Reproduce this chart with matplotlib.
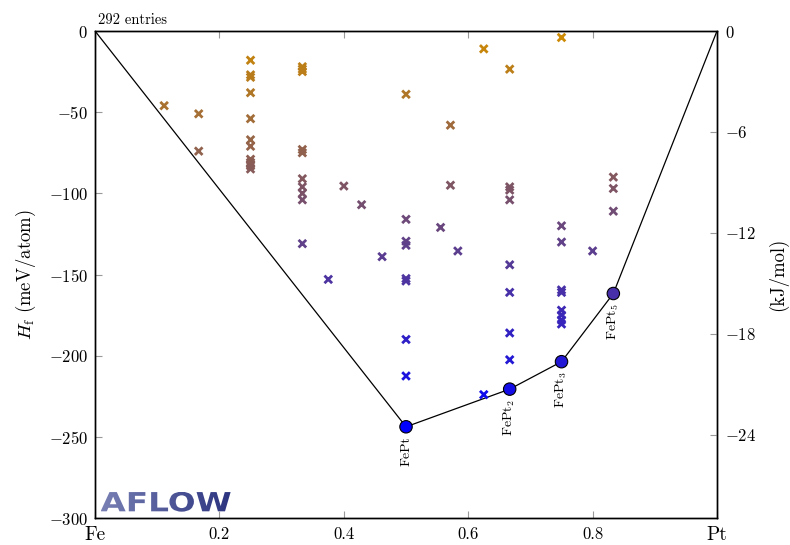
import matplotlib
matplotlib.use("Agg")
import matplotlib.pyplot as plt
import numpy as np
from matplotlib.colors import LinearSegmentedColormap, Normalize
from matplotlib.textpath import TextPath
from matplotlib.patches import PathPatch
from matplotlib.font_manager import FontProperties
from matplotlib.transforms import Affine2D

plt.rcParams["mathtext.fontset"] = "cm"
plt.rcParams["font.family"] = "serif"
plt.rcParams["font.serif"] = ["cmr10", "DejaVu Serif"]

# all entries (fraction of Pt, formation enthalpy meV/atom)
entry_x = [1/9,
           1/6, 1/6,
           0.25, 0.25, 0.25, 0.25, 0.25, 0.25, 0.25, 0.25, 0.25, 0.25, 0.25, 0.25,
           1/3, 1/3, 1/3, 1/3, 1/3, 1/3, 1/3, 1/3, 1/3, 1/3,
           0.375, 0.4, 3/7, 6/13,
           0.5, 0.5, 0.5, 0.5, 0.5, 0.5, 0.5, 0.5,
           5/9, 4/7, 4/7, 7/12,
           0.625, 0.625,
           2/3, 2/3, 2/3, 2/3, 2/3, 2/3, 2/3, 2/3,
           0.75, 0.75, 0.75, 0.75, 0.75, 0.75, 0.75, 0.75, 0.75,
           0.8,
           5/6, 5/6, 5/6]
entry_h = [-46,
           -51, -74,
           -18, -27, -28.5, -38, -54, -67, -71, -79, -81, -82, -83, -85,
           -22, -23.5, -25, -73, -75, -91, -96, -100, -104, -131,
           -153, -95.5, -107, -139,
           -39, -116, -129.5, -132, -152.5, -154, -190, -212.5,
           -121, -58, -95, -135.5,
           -11, -224,
           -23.5, -96, -98, -104, -144, -161, -186, -202.5,
           -4, -120, -130, -159.5, -161, -172, -175, -178, -180.5,
           -135.5,
           -90, -97, -111]

# convex hull vertices
hull_x = [0.0, 0.5, 2/3, 0.75, 5/6, 1.0]
hull_h = [0.0, -243.8, -220.6, -203.7, -161.7, 0.0]
hull_labels = ["FePt", r"FePt$_2$", r"FePt$_3$", r"FePt$_5$"]

yticks = [0, -50, -100, -150, -200, -250, -300]
kj_ticks = [0, -6, -12, -18, -24]
mev_to_kj = 0.0964853

cmap = LinearSegmentedColormap.from_list("hull", ["#0000FF", "#D08C00"])
norm = Normalize(vmin=-244, vmax=0)

fig = plt.figure(figsize=(7.9, 5.45), dpi=100)
ax = fig.add_axes([0.1203, 0.0495, 0.7873, 0.8936])

ax.plot(hull_x, hull_h, color="black", lw=0.9, zorder=2)
ax.scatter(entry_x, entry_h, marker="x", s=30, linewidths=2.0,
           c=cmap(norm(np.array(entry_h))), zorder=3)
ax.scatter(hull_x[1:-1], hull_h[1:-1], marker="o", s=80,
           c=cmap(norm(np.array(hull_h[1:-1]))), edgecolors="black",
           linewidths=0.8, zorder=4)
for hx, hh, lab in zip(hull_x[1:-1], hull_h[1:-1], hull_labels):
    ax.annotate(lab, (hx, hh), xytext=(0, -7), textcoords="offset points",
                rotation=90, ha="center", va="top", fontsize=10)

ax.set_xlim(0, 1)
ax.set_ylim(-300, 0)
ax.set_xticks([0, 0.2, 0.4, 0.6, 0.8, 1])
ax.set_xticklabels(["Fe", "0.2", "0.4", "0.6", "0.8", "Pt"])
for i, t in enumerate(ax.get_xticklabels()):
    t.set_fontsize(14 if i in (0, 5) else 12)
ax.set_yticks(yticks)
ax.set_yticklabels(["$%d$" % v for v in yticks], fontsize=12)
ax.tick_params(axis="both", direction="in", length=5, width=0.8,
               color="#999999", top=True, pad=5)
ax.tick_params(axis="x", pad=6)
ax.set_ylabel(r"$H_{\rm f}$ (meV/atom)", fontsize=13.5, labelpad=8)

ax2 = ax.twinx()
ax2.set_ylim(-300 * mev_to_kj, 0)
ax2.set_yticks(kj_ticks)
ax2.set_yticklabels(["$%d$" % v for v in kj_ticks], fontsize=12)
ax2.tick_params(axis="y", direction="in", length=5, width=0.8,
                color="#999999", pad=6)
ax2.set_ylabel("(kJ/mol)", fontsize=13.5, labelpad=8)

for a in (ax, ax2):
    for sp in a.spines.values():
        sp.set_linewidth(1.0)
        sp.set_color("black")

ax.text(0.004, 1.008, "292 entries", transform=ax.transAxes,
        ha="left", va="bottom", fontsize=10.5)

# AFLOW logo with a light-to-dark gradient
tp = TextPath((0, 0), "AFLOW", size=1,
              prop=FontProperties(family="DejaVu Sans", weight="bold"))
ext = tp.get_extents()
x0, x1, y0, y1 = 0.009, 0.218, 0.013, 0.054
tr = (Affine2D().translate(-ext.x0, -ext.y0)
      .scale((x1 - x0) / ext.width, (y1 - y0) / ext.height)
      .translate(x0, y0))
logo = PathPatch(tr.transform_path(tp), facecolor="none", edgecolor="none",
                 transform=ax.transAxes)
ax.add_patch(logo)
grad = np.linspace(0, 1, 256).reshape(1, -1)
logo_cmap = LinearSegmentedColormap.from_list("logo", ["#7880B4", "#2C3480"])
img = ax.imshow(grad, extent=[x0, x1, y0, y1], transform=ax.transAxes,
                cmap=logo_cmap, aspect="auto", zorder=1)
img.set_clip_path(logo)
ax.set_xlim(0, 1)
ax.set_ylim(-300, 0)

fig.savefig("out.png", dpi=100)
